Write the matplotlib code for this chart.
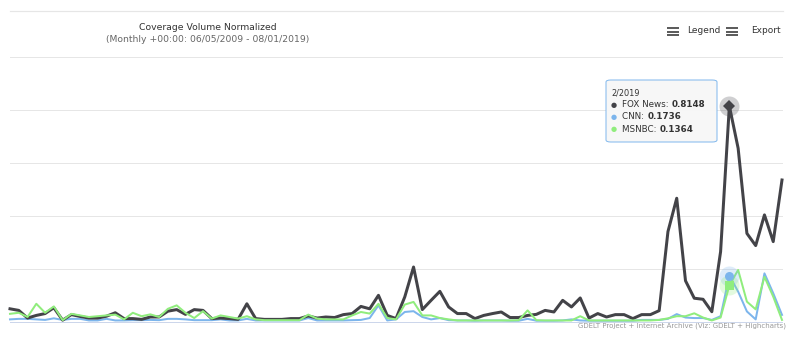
import matplotlib
matplotlib.use("Agg")
import matplotlib.pyplot as plt
from matplotlib.lines import Line2D
from matplotlib.patches import FancyBboxPatch
from matplotlib.text import Annotation

# ---- data -------------------------------------------------------------
months = [f"{m}/{y}" for y in range(2012, 2020) for m in range(1, 13)
          if not (y == 2012 and m < 4) and not (y == 2019 and m > 8)]

fox = [0.048, 0.042, 0.013, 0.023, 0.030, 0.052, 0.005, 0.026, 0.019, 0.013,
       0.013, 0.020, 0.033, 0.011, 0.011, 0.008, 0.017, 0.017, 0.039, 0.045,
       0.027, 0.045, 0.042, 0.011, 0.013, 0.011, 0.008, 0.067, 0.011, 0.008,
       0.008, 0.008, 0.011, 0.011, 0.021, 0.013, 0.017, 0.015, 0.026, 0.030,
       0.057, 0.048, 0.099, 0.023, 0.011, 0.093, 0.206, 0.045, 0.080, 0.114,
       0.055, 0.030, 0.030, 0.011, 0.023, 0.030, 0.036, 0.015, 0.015, 0.023,
       0.027, 0.042, 0.036, 0.080, 0.055, 0.089, 0.013, 0.030, 0.017, 0.026,
       0.026, 0.011, 0.026, 0.026, 0.041, 0.340, 0.466, 0.154, 0.088, 0.084,
       0.037, 0.264, 0.8148, 0.655, 0.333, 0.287, 0.403, 0.302, 0.535]

cnn = [0.008, 0.010, 0.010, 0.008, 0.006, 0.012, 0.006, 0.010, 0.010, 0.004,
       0.004, 0.010, 0.004, 0.004, 0.005, 0.005, 0.006, 0.005, 0.010, 0.010,
       0.008, 0.005, 0.005, 0.005, 0.008, 0.004, 0.004, 0.010, 0.004, 0.004,
       0.004, 0.004, 0.004, 0.004, 0.013, 0.004, 0.004, 0.004, 0.004, 0.005,
       0.006, 0.013, 0.061, 0.004, 0.008, 0.036, 0.039, 0.017, 0.008, 0.013,
       0.005, 0.004, 0.004, 0.003, 0.004, 0.004, 0.004, 0.003, 0.003, 0.010,
       0.003, 0.003, 0.003, 0.004, 0.008, 0.004, 0.003, 0.003, 0.003, 0.003,
       0.003, 0.003, 0.006, 0.006, 0.006, 0.010, 0.028, 0.015, 0.013, 0.013,
       0.006, 0.020, 0.1736, 0.113, 0.038, 0.008, 0.182, 0.107, 0.025]

msnbc = [0.029, 0.033, 0.017, 0.067, 0.033, 0.057, 0.005, 0.029, 0.023, 0.017,
         0.020, 0.023, 0.026, 0.008, 0.033, 0.020, 0.027, 0.017, 0.048, 0.061,
         0.033, 0.013, 0.039, 0.011, 0.023, 0.017, 0.011, 0.020, 0.008, 0.005,
         0.005, 0.005, 0.005, 0.005, 0.026, 0.011, 0.008, 0.008, 0.008, 0.023,
         0.036, 0.030, 0.067, 0.013, 0.008, 0.064, 0.074, 0.023, 0.023, 0.013,
         0.008, 0.004, 0.004, 0.004, 0.004, 0.004, 0.004, 0.004, 0.005, 0.042,
         0.005, 0.004, 0.004, 0.004, 0.004, 0.020, 0.004, 0.004, 0.004, 0.004,
         0.004, 0.004, 0.004, 0.004, 0.006, 0.012, 0.020, 0.020, 0.031, 0.015,
         0.004, 0.015, 0.1364, 0.195, 0.075, 0.046, 0.169, 0.094, 0.006]

series_names = ["CNN", "FOX News", "MSNBC"]
series_colors = ["#7cb5ec", "#434348", "#90ed7d"]
hover_month = "2/2019"
y_ticks = [0.0, 0.2, 0.4, 0.6, 0.8, 1.0]

title = "Coverage Volume Normalized"
subtitle = "(Monthly +00:00: 06/05/2009 - 08/01/2019)"
credits = "GDELT Project + Internet Archive (Viz: GDELT + Highcharts)"

# ---- figure -----------------------------------------------------------
W, H = 796, 340
fig = plt.figure(figsize=(W / 100, H / 100), dpi=100)
plt.rcParams['font.family'] = ['DejaVu Sans']


def fx(x):
    return x / W


def fy(y):
    return 1 - y / H


PX = 0.72  # points per pixel

ax = fig.add_axes([fx(10), fy(321.5), (782 - 10) / W, (321.5 - 57) / H])
x = list(range(len(months)))
ax.set_xlim(0, len(months) - 1)
ax.set_ylim(0, 1)
for s in ax.spines.values():
    s.set_visible(False)
ax.set_xticks([])
ax.set_yticks([])
for t in y_ticks[1:]:
    ax.axhline(t, color="#e6e6e6", lw=1 * PX, zorder=0, clip_on=False)
ax.axhline(0, color="#ccd6eb", lw=1 * PX, zorder=0, clip_on=False)

data = {"CNN": cnn, "FOX News": fox, "MSNBC": msnbc}
widths = {"CNN": 2, "FOX News": 3, "MSNBC": 2}
for name, col in zip(series_names, series_colors):
    ax.plot(x, data[name], color=col, lw=widths[name] * PX, clip_on=False,
            solid_joinstyle="round", zorder=2)

# hover markers
hi = months.index(hover_month)
markers = {"CNN": "o", "FOX News": "D", "MSNBC": "s"}
msizes = {"CNN": 9, "FOX News": 8, "MSNBC": 9}
for name, col in zip(series_names, series_colors):
    v = data[name][hi]
    ax.plot([hi], [v], marker="o", ms=20 * PX, color=col, alpha=0.25,
            mew=0, clip_on=False, zorder=3)
    ax.plot([hi], [v], marker=markers[name], ms=msizes[name] * PX, color=col,
            mew=0, clip_on=False, zorder=4)

# top separator line
fig.add_artist(Line2D([fx(10), fx(783)], [fy(11), fy(11)], color="#e6e6e6",
                      lw=1.2 * PX))

# title/subtitle
fig.text(fx(208), fy(27), title, ha="center", va="center", fontsize=6.7,
         color="#333333")
fig.text(fx(208), fy(40), subtitle, ha="center", va="center", fontsize=6.7,
         color="#666666")


# menu buttons
def burger(x0):
    for yy in (28.2, 31.5, 34.8):
        fig.add_artist(Line2D([fx(x0), fx(x0 + 12)], [fy(yy), fy(yy)],
                              color="#555555", lw=1.9 * PX,
                              solid_capstyle="butt"))


burger(667)
fig.text(fx(687), fy(30.5), "Legend", ha="left", va="center", fontsize=6.5,
         color="#333333")
burger(726)
fig.text(fx(751.5), fy(30.5), "Export", ha="left", va="center", fontsize=6.5,
         color="#333333")

# tooltip
box = FancyBboxPatch((fx(606), fy(142)), fx(717) - fx(606), fy(80) - fy(142),
                     boxstyle="round,pad=0,rounding_size=0.006",
                     transform=fig.transFigure, facecolor="#f7f7f7",
                     edgecolor="#7cb5ec", lw=1 * PX, alpha=0.95, zorder=10)
fig.add_artist(box)
fig.text(fx(611.5), fy(93), hover_month, ha="left", va="center", fontsize=5.9,
         color="#333333", zorder=11)
rows = [("FOX News", 104.5), ("CNN", 116.8), ("MSNBC", 129)]
for name, yy in rows:
    col = series_colors[series_names.index(name)]
    fig.text(fx(614), fy(yy), "\u25cf", ha="center", va="center",
             fontsize=5.0, color=col, zorder=11)
    t = fig.text(fx(622.5), fy(yy), f"{name}: ", ha="left", va="center",
                 fontsize=6.3, color="#333333", zorder=11)
    ann = Annotation(f"{data[name][hi]:.4f}", xy=(1, 0.5), xycoords=t,
                     ha="left", va="center", fontsize=6.3, fontweight="bold",
                     color="#333333", annotation_clip=False)
    ann.set_zorder(12)
    fig.add_artist(ann)

# credits
fig.text(fx(786), fy(325.5), credits, ha="right", va="center", fontsize=5.0,
         color="#999999")

fig.savefig("out.png", dpi=100)
